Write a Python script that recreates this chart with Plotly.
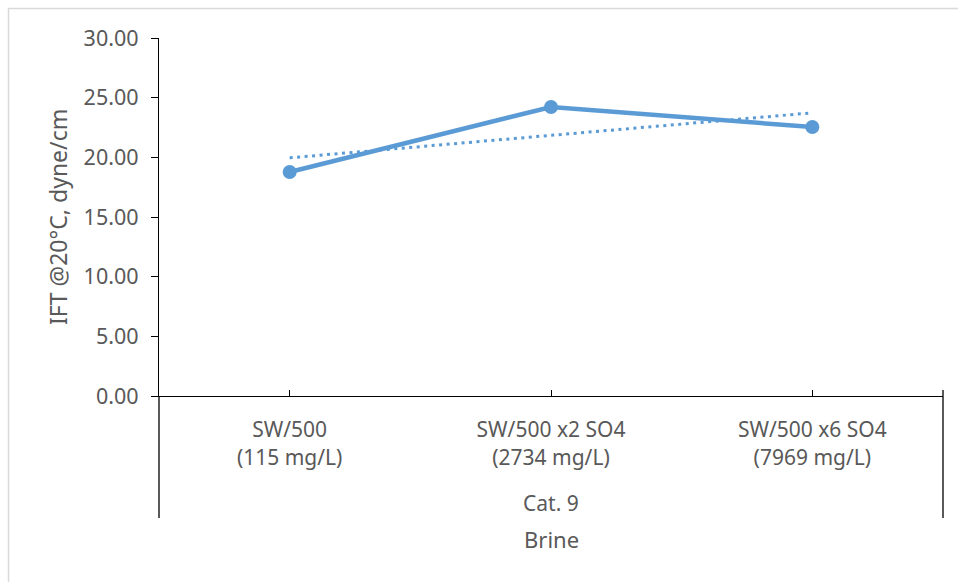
import numpy as np
import plotly.graph_objects as go

# Brine samples (category labels) and measured IFT values
brines = ["SW/500<br>(115 mg/L)", "SW/500 x2 SO4<br>(2734 mg/L)", "SW/500 x6 SO4<br>(7969 mg/L)"]
group_label = "Cat. 9"
ift_values = [18.77, 24.22, 22.54]
y_ticks = [0, 5, 10, 15, 20, 25, 30]

positions = np.arange(1, len(brines) + 1)

# Linear trendline through the measurements
slope, intercept = np.polyfit(positions, ift_values, 1)
trend_x = np.array([positions[0], positions[-1]], dtype=float)
trend_y = slope * trend_x + intercept

W, H = 958, 582
L, R, T, B = 159, 943, 38, 396  # plot area in pixels
BLUE = "#5B9BD5"
TEXT = "#595959"
FONT = "Noto Sans"


def px_x(x):
    return (x - L) / (R - L)


def px_y(y):
    return (B - y) / (B - T)


fig = go.Figure()

fig.add_trace(go.Scatter(
    x=trend_x, y=trend_y, mode="lines",
    line=dict(color=BLUE, width=3, dash="3px,4.5px"),
    hoverinfo="skip", showlegend=False,
))
fig.add_trace(go.Scatter(
    x=positions, y=ift_values, mode="lines+markers",
    line=dict(color=BLUE, width=4.5),
    marker=dict(color=BLUE, size=14),
    showlegend=False,
))

shapes = []
# outer chart border (top and left)
shapes.append(dict(type="line", xref="paper", yref="paper",
                   x0=px_x(8), x1=px_x(W), y0=px_y(8.5), y1=px_y(8.5),
                   line=dict(color="#D9D9D9", width=1.5)))
shapes.append(dict(type="line", xref="paper", yref="paper",
                   x0=px_x(8.5), x1=px_x(8.5), y0=px_y(8), y1=px_y(H),
                   line=dict(color="#D9D9D9", width=1.5)))
# multi-level category axis dividers
shapes.append(dict(type="line", xref="paper", yref="paper",
                   x0=0, x1=0, y0=0, y1=px_y(518),
                   line=dict(color="black", width=1.3)))
shapes.append(dict(type="line", xref="paper", yref="paper",
                   x0=1, x1=1, y0=px_y(390), y1=px_y(518),
                   line=dict(color="black", width=1.3)))

annotations = [
    dict(text=group_label, xref="paper", yref="paper", x=0.5, y=px_y(503),
         xanchor="center", yanchor="middle", showarrow=False,
         font=dict(family=FONT, size=21, color=TEXT)),
    dict(text="Brine", xref="paper", yref="paper", x=0.5, y=px_y(539),
         xanchor="center", yanchor="middle", showarrow=False,
         font=dict(family=FONT, size=22, color=TEXT)),
    dict(text="IFT @20°C, dyne/cm", xref="paper", yref="paper",
         x=px_x(58), y=px_y(217), textangle=-90,
         xanchor="center", yanchor="middle", showarrow=False,
         font=dict(family=FONT, size=23, color=TEXT)),
]

fig.update_layout(
    width=W, height=H,
    margin=dict(l=L, r=W - R, t=T, b=H - B),
    paper_bgcolor="white", plot_bgcolor="white",
    shapes=shapes, annotations=annotations,
    xaxis=dict(
        range=[0.5, 3.5], tickmode="array", tickvals=positions, ticktext=brines,
        ticks="inside", ticklen=6, tickcolor="black", tickwidth=1.3,
        showline=True, linecolor="black", linewidth=1.3,
        showgrid=False, zeroline=False, ticklabelstandoff=15,
        tickfont=dict(family=FONT, size=21, color=TEXT),
    ),
    yaxis=dict(
        range=[0, 30], tickmode="array", tickvals=y_ticks,
        ticktext=[f"{v:.2f}" for v in y_ticks],
        ticks="outside", ticklen=7, tickcolor="black", tickwidth=1.3,
        showline=True, linecolor="black", linewidth=1.3,
        showgrid=False, zeroline=False, ticklabelstandoff=8,
        tickfont=dict(family=FONT, size=21.5, color=TEXT),
    ),
)

fig.write_html("out.html")
